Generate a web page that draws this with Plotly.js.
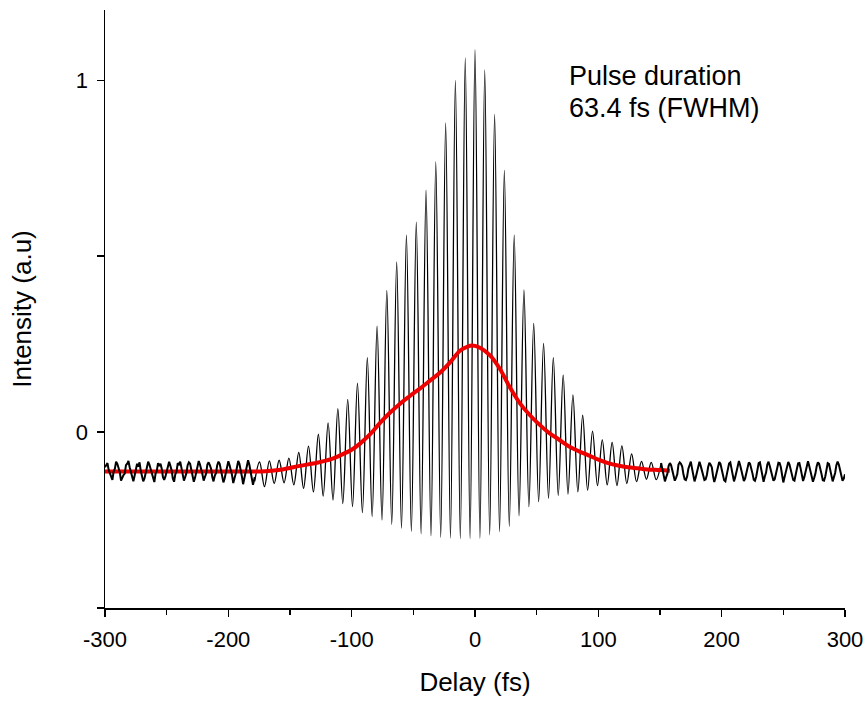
<!DOCTYPE html>
<html>
<head>
<meta charset="utf-8">
<script src="https://cdn.plot.ly/plotly-3.0.1.min.js"></script>
<style>html,body{margin:0;padding:0;background:#fff;}#chart{width:867px;height:701px;}</style>
</head>
<body>
<div id="chart"></div>
<script>
// Fringe troughs (delay fs, intensity) in the central region
const troughDelay = [-178.6,-170.7,-162.8,-154.8,-146.9,-139.0,-131.0,-123.1,-115.1,-107.2,-99.3,-91.3,-83.4,-75.4,-67.5,-59.6,-51.6,-43.7,-35.7,-27.8,-19.9,-11.9,-4.0,4.0,11.9,19.9,27.8,35.7,43.7,51.6,59.6,67.5,75.4,83.4,91.3,99.3,107.2,115.1,123.1,131.0,139.0,146.9];
const troughValue = [-0.140,-0.155,-0.146,-0.144,-0.150,-0.160,-0.170,-0.182,-0.193,-0.203,-0.212,-0.229,-0.240,-0.250,-0.262,-0.273,-0.282,-0.289,-0.295,-0.299,-0.301,-0.303,-0.303,-0.302,-0.292,-0.283,-0.268,-0.238,-0.212,-0.198,-0.188,-0.180,-0.176,-0.170,-0.165,-0.152,-0.150,-0.152,-0.146,-0.141,-0.134,-0.135];
// Fringe peaks (delay fs, intensity)
const peakDelay = [-174.7,-166.7,-158.8,-150.9,-142.9,-135.0,-127.0,-119.1,-111.2,-103.2,-95.3,-87.3,-79.4,-71.5,-63.5,-55.6,-47.6,-39.7,-31.8,-23.8,-15.9,-7.9,0,7.9,15.9,23.8,31.8,39.7,47.6,55.6,63.5,71.5,79.4,87.3,95.3,103.2,111.2,119.1,127.0,135.0,142.9,150.9];
const peakValue = [-0.085,-0.082,-0.080,-0.074,-0.058,-0.040,-0.006,0.026,0.067,0.093,0.139,0.212,0.301,0.403,0.484,0.560,0.597,0.688,0.768,0.879,1.000,1.064,1.087,1.030,0.903,0.744,0.560,0.404,0.309,0.252,0.212,0.163,0.106,0.048,0.003,-0.022,-0.029,-0.039,-0.062,-0.083,-0.086,-0.088];

// Noisy baseline, left wing
const leftDelay = [-300,-299,-298,-297,-296,-295,-294,-293,-292,-291,-290,-289,-288,-287,-286,-285,-284,-283,-282,-281,-280,-279,-278,-277,-276,-275,-274,-273,-272,-271,-270,-269,-268,-267,-266,-265,-264,-263,-262,-261,-260,-259,-258,-257,-256,-255,-254,-253,-252,-251,-250,-249,-248,-247,-246,-245,-244,-243,-242,-241,-240,-239,-238,-237,-236,-235,-234,-233,-232,-231,-230,-229,-228,-227,-226,-225,-224,-223,-222,-221,-220,-219,-218,-217,-216,-215,-214,-213,-212,-211,-210,-209,-208,-207,-206,-205,-204,-203,-202,-201,-200,-199,-198,-197,-196,-195,-194,-193,-192,-191,-190,-189,-188,-187,-186,-185,-184,-183,-182,-181,-180,-178.6];
const leftValue = [-0.100,-0.094,-0.088,-0.108,-0.118,-0.130,-0.136,-0.112,-0.104,-0.084,-0.090,-0.102,-0.114,-0.138,-0.128,-0.122,-0.118,-0.094,-0.090,-0.082,-0.100,-0.112,-0.130,-0.140,-0.124,-0.110,-0.090,-0.098,-0.086,-0.110,-0.122,-0.140,-0.132,-0.114,-0.096,-0.084,-0.092,-0.106,-0.120,-0.134,-0.142,-0.118,-0.110,-0.088,-0.096,-0.090,-0.104,-0.128,-0.136,-0.126,-0.110,-0.096,-0.084,-0.096,-0.108,-0.132,-0.141,-0.120,-0.112,-0.088,-0.092,-0.084,-0.102,-0.124,-0.138,-0.128,-0.116,-0.094,-0.086,-0.090,-0.108,-0.122,-0.141,-0.130,-0.114,-0.098,-0.082,-0.092,-0.104,-0.120,-0.138,-0.130,-0.118,-0.092,-0.086,-0.094,-0.104,-0.128,-0.140,-0.124,-0.116,-0.094,-0.084,-0.090,-0.110,-0.126,-0.143,-0.132,-0.112,-0.096,-0.083,-0.094,-0.106,-0.122,-0.145,-0.134,-0.118,-0.100,-0.082,-0.090,-0.104,-0.126,-0.148,-0.130,-0.116,-0.094,-0.080,-0.092,-0.108,-0.130,-0.150,-0.128,-0.140];
// Noisy baseline, right wing
const rightDelay = [150.9,152,153,154,155,156,157,158,159,160,161,162,163,164,165,166,167,168,169,170,171,172,173,174,175,176,177,178,179,180,181,182,183,184,185,186,187,188,189,190,191,192,193,194,195,196,197,198,199,200,201,202,203,204,205,206,207,208,209,210,211,212,213,214,215,216,217,218,219,220,221,222,223,224,225,226,227,228,229,230,231,232,233,234,235,236,237,238,239,240,241,242,243,244,245,246,247,248,249,250,251,252,253,254,255,256,257,258,259,260,261,262,263,264,265,266,267,268,269,270,271,272,273,274,275,276,277,278,279,280,281,282,283,284,285,286,287,288,289,290,291,292,293,294,295,296,297,298,299,300];
const rightValue = [-0.088,-0.105,-0.124,-0.140,-0.128,-0.118,-0.096,-0.088,-0.094,-0.110,-0.128,-0.138,-0.130,-0.120,-0.092,-0.086,-0.090,-0.098,-0.120,-0.134,-0.136,-0.126,-0.104,-0.090,-0.084,-0.104,-0.122,-0.140,-0.128,-0.113,-0.092,-0.084,-0.096,-0.108,-0.126,-0.136,-0.134,-0.122,-0.100,-0.087,-0.092,-0.100,-0.124,-0.142,-0.130,-0.116,-0.094,-0.085,-0.090,-0.106,-0.122,-0.137,-0.140,-0.124,-0.102,-0.089,-0.086,-0.103,-0.118,-0.140,-0.128,-0.112,-0.090,-0.082,-0.094,-0.110,-0.126,-0.139,-0.132,-0.119,-0.098,-0.086,-0.090,-0.101,-0.118,-0.135,-0.138,-0.127,-0.104,-0.088,-0.086,-0.106,-0.124,-0.141,-0.126,-0.115,-0.092,-0.084,-0.096,-0.109,-0.128,-0.138,-0.134,-0.121,-0.100,-0.087,-0.088,-0.100,-0.122,-0.143,-0.128,-0.114,-0.094,-0.085,-0.092,-0.107,-0.120,-0.136,-0.138,-0.125,-0.104,-0.089,-0.088,-0.103,-0.124,-0.139,-0.128,-0.113,-0.090,-0.083,-0.096,-0.110,-0.130,-0.141,-0.130,-0.118,-0.098,-0.086,-0.090,-0.102,-0.120,-0.137,-0.138,-0.126,-0.104,-0.088,-0.090,-0.105,-0.124,-0.140,-0.128,-0.116,-0.094,-0.084,-0.092,-0.108,-0.126,-0.138,-0.132,-0.120];

// Intensity autocorrelation envelope (red)
const envDelay = [-300,-200,-170,-156,-142,-128,-116,-108,-100,-93,-85,-77,-69,-61,-53,-45,-37,-28,-20,-12,-6,-2,4,12,20,28,36,44,52,60,68,76,84,92,100,108,116,124,132,140,150,158];
const envValue = [-0.112,-0.112,-0.111,-0.106,-0.096,-0.087,-0.076,-0.064,-0.050,-0.032,-0.006,0.026,0.055,0.080,0.102,0.123,0.145,0.170,0.199,0.232,0.243,0.246,0.240,0.219,0.181,0.129,0.084,0.050,0.022,-0.002,-0.021,-0.040,-0.054,-0.066,-0.078,-0.088,-0.095,-0.100,-0.103,-0.106,-0.108,-0.110];

const xTicks = [-300,-200,-100,0,100,200,300];
const yTicks = [0,1];

const cx = [], cy = [];
for (let i = 0; i < peakDelay.length; i++) {
  cx.push(troughDelay[i]); cy.push(troughValue[i]);
  cx.push(peakDelay[i]); cy.push(peakValue[i]);
}

const font = 'Liberation Sans, Arial, Helvetica, sans-serif';
const traces = [
  {x: cx, y: cy, mode: 'lines', line: {color: '#000', width: 1.3, shape: 'spline', smoothing: 1}, hoverinfo: 'skip'},
  {x: envDelay, y: envValue, mode: 'lines', line: {color: '#ee0000', width: 4, shape: 'spline'}, hoverinfo: 'skip'},
  {x: leftDelay, y: leftValue, mode: 'lines', line: {color: '#000', width: 2}, hoverinfo: 'skip'},
  {x: rightDelay, y: rightValue, mode: 'lines', line: {color: '#000', width: 2}, hoverinfo: 'skip'}
];

const layout = {
  width: 867, height: 701,
  margin: {l: 105, r: 22, t: 10, b: 93},
  paper_bgcolor: '#fff', plot_bgcolor: '#fff',
  showlegend: false,
  font: {family: font, color: '#000', size: 23},
  xaxis: {
    range: [-300, 300], tickvals: xTicks, ticktext: xTicks.map(String),
    showgrid: false, zeroline: false, showline: true, linecolor: '#000', linewidth: 1.5,
    ticks: 'outside', ticklen: 7, tickwidth: 1.5, tickcolor: '#000', ticklabelstandoff: 4,
    minor: {dtick: 50, tick0: -300, ticks: 'outside', ticklen: 5, tickwidth: 1.5, tickcolor: '#000', showgrid: false},
    tickfont: {size: 22, family: font},
    title: {text: 'Delay (fs)', font: {size: 26, family: font}, standoff: 22}
  },
  yaxis: {
    range: [-0.5, 1.2], tickvals: yTicks, ticktext: yTicks.map(String),
    showgrid: false, zeroline: false, showline: true, linecolor: '#000', linewidth: 1.5,
    ticks: 'outside', ticklen: 7, tickwidth: 1.5, tickcolor: '#000', ticklabelstandoff: 4,
    minor: {tickvals: [-0.5, 0.5], ticks: 'outside', ticklen: 7, tickwidth: 1.5, tickcolor: '#000', showgrid: false},
    tickfont: {size: 22, family: font},
    title: {text: 'Intensity (a.u)', font: {size: 26, family: font}, standoff: 36}
  },
  annotations: [
    {x: 74.6, y: 1.013, xref: 'x', yref: 'y', text: 'Pulse duration', showarrow: false, xanchor: 'left', yanchor: 'middle', font: {size: 27, family: font}},
    {x: 74.6, y: 0.920, xref: 'x', yref: 'y', text: '63.4 fs (FWHM)', showarrow: false, xanchor: 'left', yanchor: 'middle', font: {size: 27, family: font}}
  ]
};

Plotly.newPlot('chart', traces, layout, {displayModeBar: false, staticPlot: true});
</script>
</body>
</html>
